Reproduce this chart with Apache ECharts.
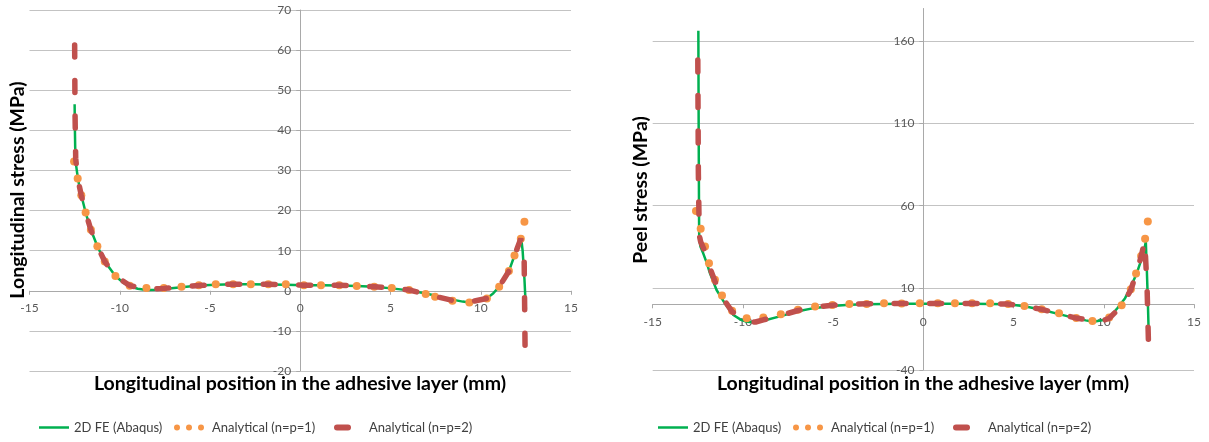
<!DOCTYPE html>
<html>
<head>
<meta charset="utf-8">
<script src="https://cdn.jsdelivr.net/npm/echarts@6/dist/echarts.min.js"></script>
<style>
html,body{margin:0;padding:0;background:#fff;}
#c{width:1209px;height:442px;}
</style>
</head>
<body>
<div id="c"></div>
<script>
// ---------- DATA ----------
const seriesNames = ['2D FE (Abaqus)', 'Analytical (n=p=1)', 'Analytical (n=p=2)'];
const xTitle = 'Longitudinal position in the adhesive layer (mm)';
const yTitleLeft = 'Longitudinal stress (MPa)';
const yTitleRight = 'Peel stress (MPa)';

// Left chart: longitudinal stress
const feX_L = [-12.5,-12.49,-12.47,-12.44,-12.38,-12.3,-12.13,-11.89,-11.6,-11.24,-10.83,-10.24,-9.8,-9.45,-9.0,-8.52,-8.0,-7.56,-6.58,-5.62,-4.68,-3.72,-2.74,-1.77,-0.8,0.2,1.15,2.16,3.13,4.1,5.07,6.03,6.95,7.47,8.43,9.0,9.37,9.8,10.34,10.7,11.02,11.3,11.56,11.87,12.05,12.24,12.32,12.42,12.5];
const feY_L = [46.5,42,36,32,30,27.5,23.8,19.5,15.2,11.1,7.3,3.7,2.0,1.1,0.5,0.2,0.25,0.45,0.9,1.3,1.5,1.6,1.6,1.55,1.5,1.4,1.35,1.3,1.2,1.0,0.6,0.1,-0.7,-1.2,-2.2,-2.7,-2.9,-2.7,-1.9,-0.6,1.0,2.8,4.9,8.8,11.2,13.1,10,3,-4.5];

const a1X_L = [-12.53,-12.33,-12.13,-11.89,-11.6,-11.24,-10.83,-10.24,-9.45,-8.52,-7.56,-6.58,-5.62,-4.68,-3.72,-2.74,-1.77,-0.8,0.2,1.15,2.16,3.13,4.1,5.07,6.03,6.95,7.47,8.43,9.37,10.34,11.02,11.56,11.87,12.22,12.42];
const a1Y_L = [32.2,28.0,23.8,19.5,15.2,11.1,7.3,3.7,1.25,0.67,0.67,1.0,1.4,1.6,1.6,1.6,1.6,1.6,1.4,1.4,1.4,1.2,1.0,0.67,0.17,-0.8,-1.5,-2.5,-2.9,-1.9,1.0,4.9,8.8,13.0,17.2];

const a2X_L = [-12.5,-12.48,-12.44,-12.33,-12.13,-11.89,-11.6,-11.24,-10.83,-10.24,-9.45,-8.52,-7.56,-6.58,-5.62,-4.68,-3.72,-2.74,-1.77,-0.8,0.2,1.15,2.16,3.13,4.1,5.07,6.03,6.95,7.47,8.43,9.37,10.34,11.02,11.56,11.87,12.22,12.4,12.46];
const a2Y_L = [62.5,45,33,28,23.8,19.5,15.2,11.1,7.3,3.7,1.3,0.3,0.6,1.0,1.3,1.6,1.6,1.6,1.6,1.5,1.4,1.4,1.4,1.2,1.0,0.7,0.2,-0.8,-1.4,-2.4,-2.8,-1.9,1.0,4.9,8.8,13.0,10,-16.2];

// Right chart: peel stress
const feX_R = [-12.47,-12.45,-12.43,-12.42,-12.35,-12.2,-12.0,-11.83,-11.46,-11.0,-10.53,-10.1,-9.79,-9.4,-8.87,-7.9,-6.95,-6.0,-5.04,-4.1,-3.14,-2.18,-1.2,-0.2,0.8,1.75,2.7,3.7,4.7,5.6,6.56,7.52,8.47,9.0,9.42,9.98,10.35,10.75,11.18,11.46,11.83,12.2,12.33,12.38,12.44,12.49];
const feY_R = [166.5,100,50,40,35,31,25,19,8.7,0.6,-6.5,-9.5,-10.6,-11,-10,-7.2,-4.3,-2.2,-1.0,-0.3,0.0,0.2,0.3,0.3,0.3,0.3,0.3,0.2,0.0,-1.2,-3.3,-6.0,-8.6,-9.8,-10.6,-9.6,-7.5,-2.4,3.7,9.7,18.9,31,38,23,2.6,-17.6];

const a1X_R = [-12.6,-12.34,-12.1,-11.88,-11.55,-11.16,-10.6,-9.79,-8.87,-7.9,-6.95,-6.0,-5.04,-4.1,-3.14,-2.18,-1.2,-0.2,0.8,1.75,2.7,3.7,4.7,5.6,6.56,7.52,8.47,9.37,10.3,10.99,11.5,11.79,12.07,12.29,12.44];
const a1Y_R = [56.7,45.9,35.2,25.0,14.9,5.3,-3.9,-8.5,-8.1,-6.1,-3.4,-1.4,-0.4,0.2,0.2,0.6,0.4,0.6,0.6,0.6,0.6,0.6,0.2,-1.1,-3.1,-5.5,-8.3,-10.2,-8.1,-0.6,9.1,18.8,29.4,39.9,50.3];

const a2X_R = [-12.5,-12.47,-12.42,-12.34,-12.1,-11.88,-11.55,-11.16,-10.6,-10.1,-9.79,-9.3,-8.87,-7.9,-6.95,-6.0,-5.04,-4.1,-3.14,-2.18,-1.2,-0.2,0.8,1.75,2.7,3.7,4.7,5.6,6.56,7.52,8.47,9.37,9.9,10.3,10.99,11.5,11.79,12.07,12.27,12.4,12.5];
const a2Y_R = [148.6,80,42,38,32,23.5,14,4.5,-4.5,-8.5,-10.5,-10.8,-9.5,-6.8,-3.8,-1.8,-0.6,0.0,0.3,0.4,0.4,0.4,0.4,0.4,0.4,0.4,0.1,-1.1,-3.1,-5.7,-8.4,-10.0,-10.2,-8.5,-1.0,8.7,18.5,29,38.5,10,-34];

// Axis tick setup
const xMin = -15, xMax = 15, xStep = 5;
const yMinL = -20, yMaxL = 70, yStepL = 10;
const yMinR = -40, yMaxR = 180, yStepR = 50;

// ---------- CHART ----------
const pairs = (xs, ys) => xs.map((x, i) => [x, ys[i]]);
const FONT = 'Lato';
const C_GREEN = '#00b050', C_ORANGE = '#f79646', C_RED = '#c0504d';
const gridColor = '#c3c3c3', axisColor = '#a9a9a9', labelColor = '#595959';

const grids = [
  { left: 29.5, top: 10, width: 541.5, height: 361 },
  { left: 652.7, top: 8.5, width: 541.3, height: 361.5 }
];
const yRanges = [[yMinL, yMaxL, yStepL], [yMinR, yMaxR, yStepR]];

function xAxisCfg(gi, margin) {
  const g = grids[gi], r = yRanges[gi];
  // place the axis where y = 0 (crossing), via offset from bottom edge
  const off = -g.height * (0 - r[0]) / (r[1] - r[0]);
  return {
    type: 'value', gridIndex: gi, min: xMin, max: xMax, interval: xStep, position: 'bottom', offset: off,
    axisLine: { onZero: false, lineStyle: { color: axisColor, width: 1 } },
    axisTick: { show: true, length: 4, lineStyle: { color: axisColor } },
    axisLabel: { color: labelColor, fontSize: 12, fontFamily: FONT, margin: margin },
    splitLine: { show: false }
  };
}
function yAxisCfg(gi, showMax) {
  const g = grids[gi], r = yRanges[gi];
  const off = -g.width * (0 - xMin) / (xMax - xMin);
  return {
    type: 'value', gridIndex: gi, min: r[0], max: r[1], interval: r[2], position: 'left', offset: off,
    axisLine: { show: true, onZero: false, lineStyle: { color: axisColor, width: 1 } },
    axisTick: { show: true, length: 4, lineStyle: { color: axisColor } },
    axisLabel: { color: labelColor, fontSize: 12, fontFamily: FONT, margin: 9, showMaxLabel: showMax, showMinLabel: true },
    splitLine: { show: true, showMaxLine: showMax, showMinLine: true, lineStyle: { color: gridColor, width: 1 } }
  };
}
function fe(gi, xs, ys) {
  return { name: seriesNames[0], type: 'line', xAxisIndex: gi, yAxisIndex: gi, data: pairs(xs, ys),
    symbol: 'none', lineStyle: { color: C_GREEN, width: 2.5 }, itemStyle: { color: C_GREEN }, z: 2 };
}
function an1(gi, xs, ys) {
  return { name: seriesNames[1], type: 'line', xAxisIndex: gi, yAxisIndex: gi, data: pairs(xs, ys),
    symbol: 'circle', symbolSize: 8, showSymbol: true, showAllSymbol: true,
    lineStyle: { color: C_ORANGE, width: 0, opacity: 0 }, itemStyle: { color: C_ORANGE, borderWidth: 0 }, z: 3 };
}
function an2(gi, xs, ys, dashOff) {
  return { name: seriesNames[2], type: 'line', xAxisIndex: gi, yAxisIndex: gi, data: pairs(xs, ys),
    symbol: 'none', lineStyle: { color: C_RED, width: 5.5, type: [12, 23.5], dashOffset: dashOff, cap: 'round' }, itemStyle: { color: C_RED }, z: 4 };
}

// legend icons (shapes only)
const ICON_LINE = 'path://M0,0L30,0L30,2.5L0,2.5Z';
const ICON_DOTS = 'path://M0,3A3,3 0 1,0 6,3A3,3 0 1,0 0,3ZM12,3A3,3 0 1,0 18,3A3,3 0 1,0 12,3ZM24,3A3,3 0 1,0 30,3A3,3 0 1,0 24,3Z';
const ICON_DASH = 'path://M3,0L14,0A3,3 0 0,1 14,6L3,6A3,3 0 0,1 3,0Z';

function legendItem(left, idx, icon, w, h, color, padLeft) {
  return {
    left: left, top: 421, orient: 'horizontal', itemWidth: w, itemHeight: h, itemGap: 0,
    padding: 0, selectedMode: false,
    textStyle: { color: '#404040', fontSize: 13, fontFamily: FONT, padding: [0, 0, 0, padLeft] },
    data: [{ name: seriesNames[idx], icon: icon, itemStyle: { color: color, borderWidth: 0 } }]
  };
}
function legendsFor(x0) {
  return [
    legendItem(x0, 0, ICON_LINE, 30, 14, C_GREEN, 0),
    legendItem(x0 + 135, 1, ICON_DOTS, 30, 14, C_ORANGE, 3),
    legendItem(x0 + 295, 2, ICON_DASH, 17, 14, C_RED, 13)
  ];
}
function titleText(x, y, text, rot) {
  return { type: 'text', x: x, y: y, rotation: rot || 0,
    style: { text: text, fontFamily: FONT, fontWeight: 'bold', fontSize: 19.5, fill: '#000', align: 'center', verticalAlign: 'middle' } };
}

const chart = echarts.init(document.getElementById('c'), null, { renderer: 'canvas' });
chart.setOption({
  animation: false,
  backgroundColor: '#ffffff',
  grid: grids.map(g => Object.assign({ containLabel: false, outerBoundsMode: 'none' }, g)),
  xAxis: [xAxisCfg(0, 11), xAxisCfg(1, 12)],
  yAxis: [yAxisCfg(0, true), yAxisCfg(1, false)],
  legend: legendsFor(39).concat(legendsFor(658)),
  series: [
    fe(0, feX_L, feY_L), an1(0, a1X_L, a1Y_L), an2(0, a2X_L, a2Y_L, -5),
    fe(1, feX_R, feY_R), an1(1, a1X_R, a1Y_R), an2(1, a2X_R, a2Y_R, 0)
  ],
  graphic: [
    titleText(300, 384, xTitle),
    titleText(923, 384, xTitle),
    titleText(18, 190, yTitleLeft, Math.PI / 2),
    titleText(641, 190, yTitleRight, Math.PI / 2)
  ]
});
</script>
</body>
</html>
